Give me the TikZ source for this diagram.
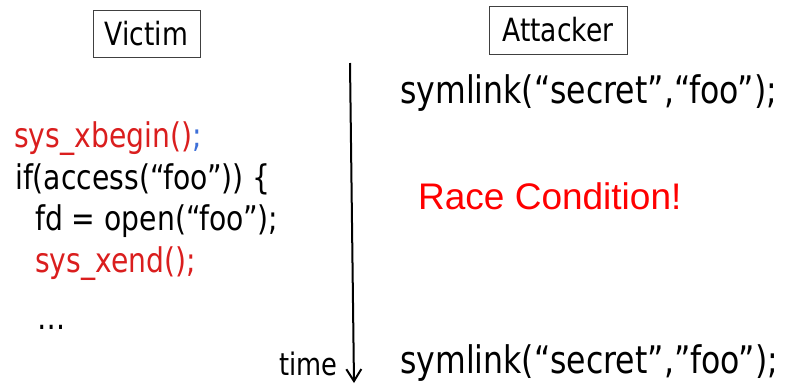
\documentclass[tikz,border=0pt]{standalone}
\usepackage{fontspec}
\setmainfont{DejaVu Sans}[FakeStretch=0.83]
\newfontfamily\arialfont{Liberation Sans}
\usetikzlibrary{arrows.meta}
\definecolor{codered}{HTML}{DA1E1E}
\definecolor{alertred}{HTML}{FF0000}
\definecolor{semiblue}{HTML}{3D6FD8}
\begin{document}
\begin{tikzpicture}[x=1pt,y=-1pt,
  codeline/.style={anchor=base west, inner sep=0pt, font=\fontsize{34}{40}\selectfont},
  attline/.style={anchor=base west, inner sep=0pt, font=\fontsize{38}{44}\selectfont},
  rolebox/.style={draw=black!75, line width=1pt, inner sep=0pt, font=\fontsize{32}{38}\selectfont},
  timeaxis/.style={line width=2pt, -{Straight Barb[length=12pt,width=15pt]}},
]
\useasboundingbox (0,0) rectangle (785,384);

% role headers
\node[rolebox, minimum width=107pt, minimum height=47pt] (victim) at (146.5,33.5) {Victim};
\node[rolebox, minimum width=138pt, minimum height=48pt] (attacker) at (558,30) {Attacker};

% victim code
\node[codeline, text=codered] (xbegin) at (14,147) {sys\_xbegin()\textcolor{semiblue}{;}};
\node[codeline] (access) at (15,189) {if(access(“foo”)) \{};
\node[codeline] (open) at (35,230) {fd = open(“foo”);};
\node[codeline, text=codered] (xend) at (35,272) {sys\_xend();};
\node[codeline] (dots) at (37,329) {…};

% time axis
\coordinate (tstart) at (350,63);
\coordinate (tend) at (354,383);
\draw[timeaxis] (tstart) -- (tend);
\node[anchor=base west, inner sep=0pt, text depth=0pt, font=\fontsize{31}{37}\selectfont] (time) at (279,375) {time};

% attacker code
\node[attline] (link1) at (400,103) {symlink(“secret”,“foo”);};
\node[anchor=base west, inner sep=0pt, text=alertred, font=\arialfont\fontsize{37}{44}\selectfont] (race) at (418,209) {Race Condition!};
\node[attline] (link2) at (400,373) {symlink(“secret”,”foo”);};
\end{tikzpicture}
\end{document}
